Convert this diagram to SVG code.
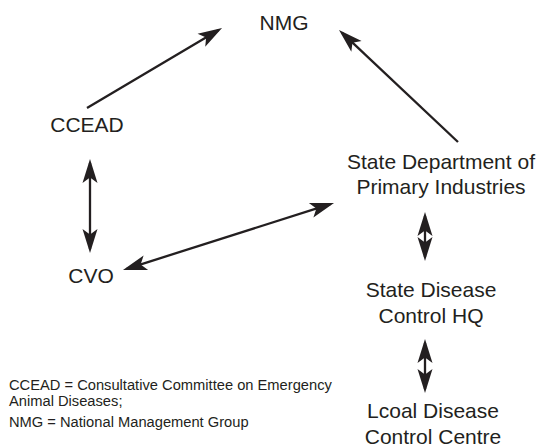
<svg xmlns="http://www.w3.org/2000/svg" width="538" height="447" viewBox="0 0 538 447">
<style>
.n{font-family:"Liberation Sans",Arial,sans-serif;font-size:21px;fill:#231f20;text-anchor:middle}
.l{font-family:"Liberation Sans",Arial,sans-serif;font-size:14.7px;fill:#231f20}
.c{stroke:#231f20;stroke-width:2.3;fill:none}
</style>
<defs>
<marker id="ah" markerUnits="userSpaceOnUse" markerWidth="30" markerHeight="18" viewBox="-24 -9 30 18" refX="0" refY="0" orient="auto-start-reverse">
<path d="M4,0 L-20,-7.5 L-14.5,0 L-20,7.5 Z" fill="#231f20"/>
</marker>
</defs>
<rect width="538" height="447" fill="#fff"/>
<g id="connectors">
<line class="c" x1="87" y1="108" x2="218.6" y2="30" marker-end="url(#ah)"/>
<line class="c" x1="458" y1="142" x2="341.9" y2="32.7" marker-end="url(#ah)"/>
<line class="c" x1="90" y1="163" x2="90" y2="249" marker-start="url(#ah)" marker-end="url(#ah)"/>
<line class="c" x1="126.8" y1="268.8" x2="330.2" y2="204.2" marker-start="url(#ah)" marker-end="url(#ah)"/>
<line class="c" x1="425" y1="216" x2="425" y2="257" marker-start="url(#ah)" marker-end="url(#ah)"/>
<line class="c" x1="425" y1="343" x2="425" y2="389" marker-start="url(#ah)" marker-end="url(#ah)"/>
</g>
<g id="nmg"><text class="n" x="284" y="30">NMG</text></g>
<g id="ccead"><text class="n" x="87" y="131.5">CCEAD</text></g>
<g id="cvo"><text class="n" x="91" y="282.5">CVO</text></g>
<g id="state-dept"><text class="n" x="441" y="169">State Department of</text><text class="n" x="441" y="194">Primary Industries</text></g>
<g id="state-hq"><text class="n" x="431" y="297">State Disease</text><text class="n" x="431" y="323">Control HQ</text></g>
<g id="local-centre"><text class="n" x="433" y="418">Lcoal Disease</text><text class="n" x="433" y="444">Control Centre</text></g>
<g id="legend">
<text class="l" x="9" y="390">CCEAD = Consultative Committee on Emergency</text>
<text class="l" x="9" y="406">Animal Diseases;</text>
<text class="l" x="9" y="427.3">NMG = National Management Group</text>
</g>
</svg>
